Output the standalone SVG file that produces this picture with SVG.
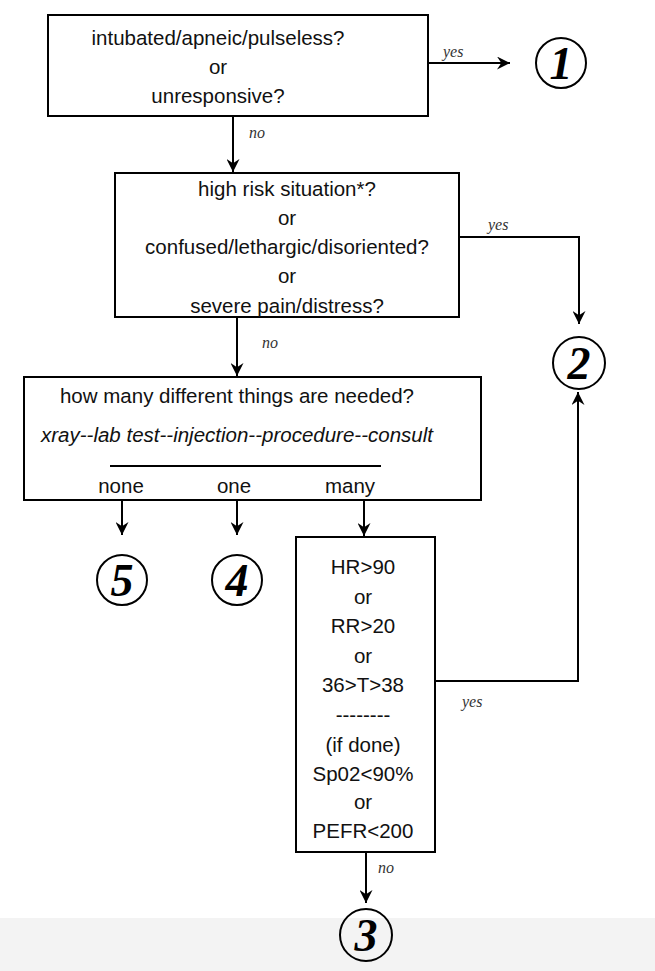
<svg xmlns="http://www.w3.org/2000/svg" width="655" height="971" viewBox="0 0 655 971">
<style>
.box{fill:none;stroke:#000;stroke-width:2}
.t{font-family:"Liberation Sans",Arial,sans-serif;font-size:20.5px;fill:#111;text-anchor:middle}
.ti{font-family:"Liberation Sans",Arial,sans-serif;font-size:20.5px;font-style:italic;fill:#111;text-anchor:middle}
.lbl{font-family:"Liberation Serif","Times New Roman",serif;font-size:16px;font-style:italic;fill:#333}
.c{fill:none;stroke:#000;stroke-width:2}
.n{font-family:"Liberation Serif","Times New Roman",serif;font-size:46px;font-style:italic;font-weight:bold;fill:#000;text-anchor:middle}
.ln{fill:none;stroke:#000;stroke-width:2}
</style>
<defs>
<marker id="ah" viewBox="0 0 12 12" refX="12" refY="6" markerWidth="13" markerHeight="13" markerUnits="userSpaceOnUse" orient="auto">
<path d="M0,0 L12,6 L0,12 L4,6 z" fill="#000"/>
</marker>
</defs>
<rect x="0" y="918" width="655" height="53" fill="#f3f3f3"/>
<g id="connectors">
<path class="ln" d="M428,63 H510" marker-end="url(#ah)"/>
<path class="ln" d="M233,116 V172" marker-end="url(#ah)"/>
<path class="ln" d="M459,237 H579 V324" marker-end="url(#ah)"/>
<path class="ln" d="M237,317 V376" marker-end="url(#ah)"/>
<path class="ln" d="M122,500 V535" marker-end="url(#ah)"/>
<path class="ln" d="M237,500 V535" marker-end="url(#ah)"/>
<path class="ln" d="M364,500 V536" marker-end="url(#ah)"/>
<path class="ln" d="M435,681 H578 V392" marker-end="url(#ah)"/>
<path class="ln" d="M366,852 V903" marker-end="url(#ah)"/>
<text class="lbl" x="443" y="57">yes</text>
<text class="lbl" x="249" y="138">no</text>
<text class="lbl" x="488" y="230">yes</text>
<text class="lbl" x="262" y="348">no</text>
<text class="lbl" x="462" y="707">yes</text>
<text class="lbl" x="378" y="873">no</text>
</g>
<g id="node-q1">
<rect class="box" x="48" y="15" width="380" height="101"/>
<text class="t" x="218" y="45">intubated/apneic/pulseless?</text>
<text class="t" x="218" y="74">or</text>
<text class="t" x="218" y="103">unresponsive?</text>
</g>
<g id="node-q2">
<rect class="box" x="115" y="173" width="344" height="144"/>
<text class="t" x="287" y="196">high risk situation*?</text>
<text class="t" x="287" y="225">or</text>
<text class="t" x="287" y="254">confused/lethargic/disoriented?</text>
<text class="t" x="287" y="283">or</text>
<text class="t" x="287" y="313">severe pain/distress?</text>
</g>
<g id="node-q3">
<rect class="box" x="24" y="377" width="457" height="123"/>
<text class="t" x="237" y="403">how many different things are needed?</text>
<text class="ti" x="237" y="442">xray--lab test--injection--procedure--consult</text>
<line class="ln" x1="110" y1="466" x2="381" y2="466"/>
<text class="t" x="121" y="493">none</text>
<text class="t" x="234" y="493">one</text>
<text class="t" x="350" y="493">many</text>
</g>
<g id="node-q4">
<rect class="box" x="296" y="537" width="139" height="315"/>
<text class="t" x="363" y="574">HR&gt;90</text>
<text class="t" x="363" y="604">or</text>
<text class="t" x="363" y="633">RR&gt;20</text>
<text class="t" x="363" y="663">or</text>
<text class="t" x="363" y="692">36&gt;T&gt;38</text>
<text class="t" x="363" y="722">--------</text>
<text class="t" x="363" y="752">(if done)</text>
<text class="t" x="363" y="781">Sp02&lt;90%</text>
<text class="t" x="363" y="809">or</text>
<text class="t" x="363" y="838">PEFR&lt;200</text>
</g>
<g id="node-1"><circle class="c" cx="561" cy="63" r="25"/><text class="n" x="561" y="79">1</text></g>
<g id="node-2"><circle class="c" cx="579" cy="363" r="26"/><text class="n" x="579" y="379">2</text></g>
<g id="node-3"><circle class="c" cx="366" cy="935" r="26"/><text class="n" x="366" y="951">3</text></g>
<g id="node-5"><circle class="c" cx="122" cy="580" r="25"/><text class="n" x="122" y="596">5</text></g>
<g id="node-4"><circle class="c" cx="237" cy="580" r="25"/><text class="n" x="237" y="596">4</text></g>
</svg>
